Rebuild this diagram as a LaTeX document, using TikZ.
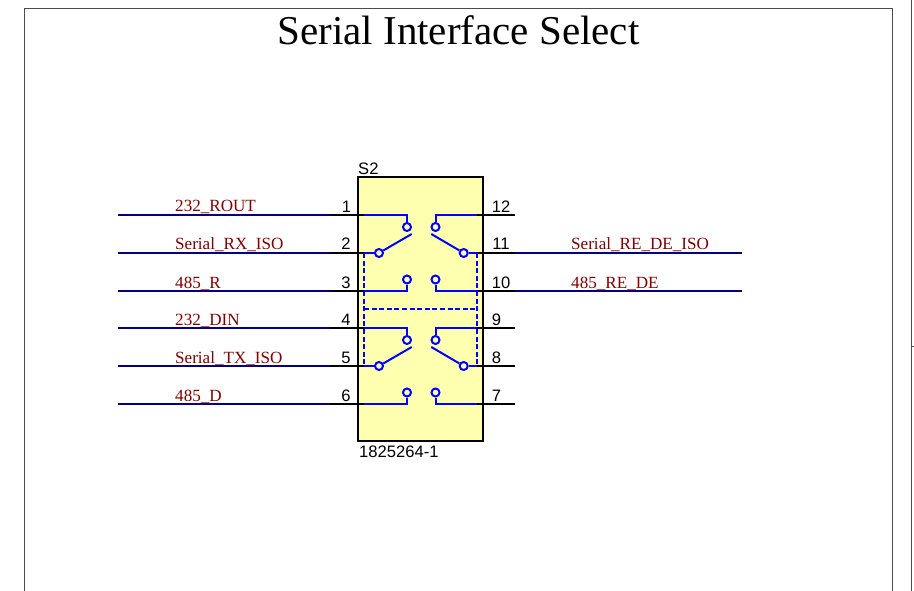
\documentclass[tikz,border=0pt]{standalone}
\usepackage{fontspec}
\setmainfont{Liberation Serif}
\newfontfamily\pinfont{Liberation Sans}
\definecolor{wireblue}{RGB}{0,0,128}
\definecolor{swblue}{RGB}{0,0,255}
\definecolor{netred}{RGB}{128,0,0}
\definecolor{boxfill}{RGB}{255,255,176}
\tikzset{
  frameline/.style={draw=black!70,line width=1pt},
  wire/.style={draw=wireblue,line width=2pt},
  pinline/.style={draw=black,line width=2pt},
  swline/.style={draw=swblue,line width=2pt},
  dashline/.style={draw=swblue,line width=2pt,dash pattern=on 5pt off 2.6pt},
  contact/.style={circle,draw=swblue,line width=2pt,fill=boxfill,minimum size=8pt,inner sep=0pt},
  netlabel/.style={anchor=base west,text=netred,font=\fontsize{17.1}{19}\selectfont,inner sep=0pt},
  pinnum/.style={anchor=base,text=black,font=\pinfont\fontsize{16.6}{18}\selectfont,inner sep=0pt},
  refd/.style={anchor=base west,text=black,font=\pinfont\fontsize{16.6}{18}\selectfont,inner sep=0pt}
}
\begin{document}
\begin{tikzpicture}[x=1pt,y=-1pt]
\useasboundingbox (0,0) rectangle (914,591);
% sheet frame
\coordinate (fbl) at (24,591); \coordinate (ftl) at (24,8.5);
\coordinate (ftr) at (892,8.5); \coordinate (fbr) at (892,591);
\draw[frameline] (fbl) -- (ftl) -- (ftr) -- (fbr);
\coordinate (n1) at (911,0); \coordinate (n2) at (911,591);
\coordinate (n3) at (914,346);\coordinate (n4) at (911,346);
\draw[frameline] (n1) -- (n2);
\draw[frameline] (n4) -- (n3);
\node[anchor=base,inner sep=0pt,font=\fontsize{41}{44}\selectfont] (title) at (458.5,44.5) {Serial Interface Select};
% body
\node[draw=black,line width=2pt,fill=boxfill,minimum width=124.5pt,minimum height=264pt,inner sep=0pt,outer sep=0pt] (body) at (420.5,309.2) {};
\node[refd] (ref) at (358,175) {S2};
\node[refd] (val) at (359,457.5) {1825264-1};
% coordinates per row
\foreach \nm/\y in {a/215,b/253,c/291,d/328,e/366,f/404}{
  \coordinate (L0\nm) at (118,\y);
  \coordinate (L1\nm) at (330,\y);
  \coordinate (L2\nm) at (364,\y);
  \coordinate (R2\nm) at (477,\y);
  \coordinate (R1\nm) at (515,\y);
  \coordinate (R0\nm) at (742,\y);
}
% outer wires
\foreach \nm in {a,b,c,d,e,f}{
  \draw[wire] (L0\nm) -- (L1\nm);
  \draw[pinline] (L1\nm) -- (L2\nm);
  \draw[pinline] (R2\nm) -- (R1\nm);
}
\draw[wire] (R1b) -- (R0b);
\draw[wire] (R1c) -- (R0c);
% dashed ganging
\coordinate (dtl) at (364,309); \coordinate (dtr) at (477,309);
\draw[dashline] (L2b) -- (L2e);
\draw[dashline] (R2b) -- (R2e);
\draw[dashline] (dtl) -- (dtr);
% switch sections
\foreach \s/\ra/\rb/\rc/\dy in {u/a/b/c/0,v/d/e/f/113}{
  \node[contact] (c1\s) at (407,227+\dy) {};
  \node[contact] (c2\s) at (435.5,227+\dy) {};
  \node[contact] (c3\s) at (407,279.5+\dy) {};
  \node[contact] (c4\s) at (435.5,279.5+\dy) {};
  \node[contact] (c5\s) at (379,253+\dy) {};
  \node[contact] (c6\s) at (463.7,253+\dy) {};
  \coordinate (t5\s) at (411.7,234+\dy);
  \coordinate (t6\s) at (431.3,234+\dy);
  \draw[swline] (L2\ra) -| (c1\s);
  \draw[swline] (R2\ra) -| (c2\s);
  \draw[swline] (L2\rc) -| (c3\s);
  \draw[swline] (R2\rc) -| (c4\s);
  \draw[swline] (L2\rb) -- (c5\s);
  \draw[swline] (R2\rb) -- (c6\s);
  \draw[swline] (c5\s) -- (t5\s);
  \draw[swline] (c6\s) -- (t6\s);
}
% pin numbers
\foreach \t/\x/\y/\i in {1/346.5/212.5/p1,2/346/250/p2,3/346/288/p3,4/346/325.5/p4,5/346/363/p5,6/346/401/p6,
  12/501/212.5/p12,11/501/250/p11,10/501/288/p10,9/496.5/325.5/p9,8/496.5/363/p8,7/496.5/401/p7}{
  \node[pinnum] (\i) at (\x,\y) {\t};
}
% net labels
\node[netlabel] (n232r) at (175,212) {232\_ROUT};
\node[netlabel] (nrx) at (175,250) {Serial\_RX\_ISO};
\node[netlabel] (n485r) at (175,288) {485\_R};
\node[netlabel] (n232d) at (175,325.5) {232\_DIN};
\node[netlabel] (ntx) at (175,363) {Serial\_TX\_ISO};
\node[netlabel] (n485d) at (175,401) {485\_D};
\node[netlabel] (nrede) at (571,250) {Serial\_RE\_DE\_ISO};
\node[netlabel] (n485rd) at (571,288) {485\_RE\_DE};
\end{tikzpicture}
\end{document}
